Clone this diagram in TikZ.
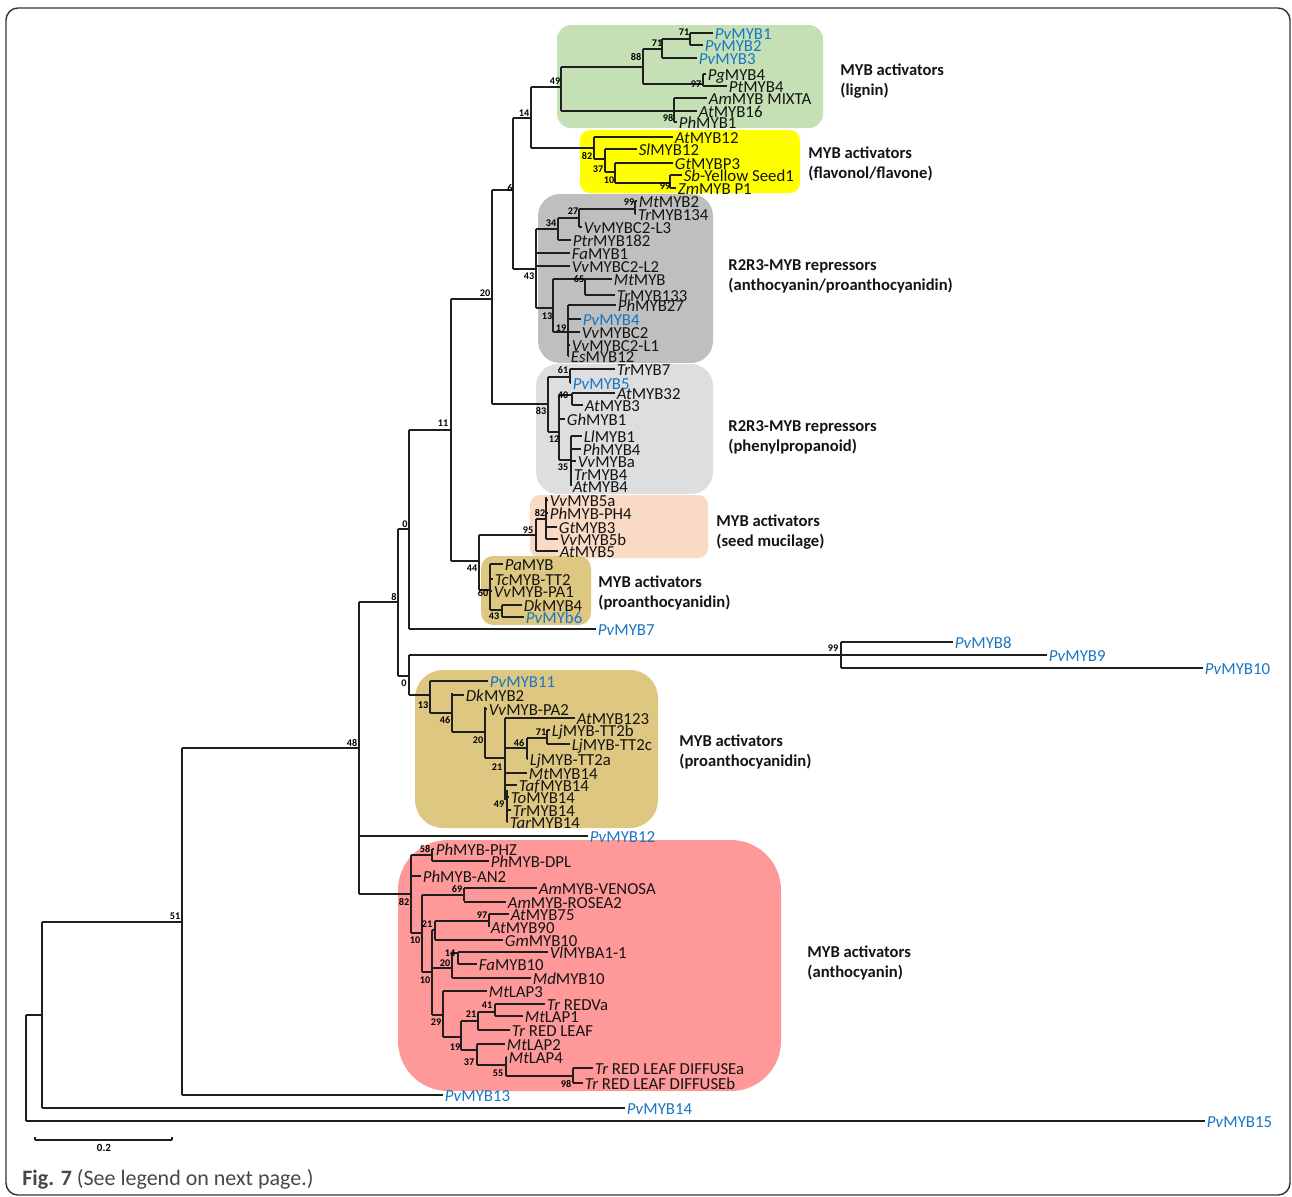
\documentclass[tikz,border=0pt]{standalone}
\usepackage{fontspec}
\setmainfont{Carlito}
\definecolor{pvblue}{RGB}{24,118,196}
\definecolor{cgreen}{RGB}{197,224,180}
\definecolor{cyellow}{RGB}{255,255,0}
\definecolor{cdgray}{RGB}{191,191,191}
\definecolor{clgray}{RGB}{222,222,222}
\definecolor{cpeach}{RGB}{249,218,196}
\definecolor{ctan}{RGB}{222,199,128}
\definecolor{cred}{RGB}{255,153,153}
\newcounter{nn}
\newcommand{\vbr}[3]{\draw[br] (#1,#2) -- (#1,#3);}
\newcommand{\hbr}[3]{\draw[br] (#1,#3) -- (#2,#3);}
\newcommand{\leafb}[4]{\draw[br] (#1,#3) -- (#2,#3);\stepcounter{nn}\node[lab] (n\arabic{nn}) at (#2+1.5,#3+6) {#4};}
\newcommand{\leafp}[4]{\draw[br] (#1,#3) -- (#2,#3);\stepcounter{nn}\node[lab,text=pvblue] (n\arabic{nn}) at (#2+1.5,#3+6) {#4};}
\newcommand{\bsn}[3]{\stepcounter{nn}\node[bsv] (b\arabic{nn}) at (#1,#2) {#3};}
\newcommand{\grpl}[4]{\stepcounter{nn}\node[grp] (g\arabic{nn}) at (#1,#2+5) {#3};\stepcounter{nn}\node[grp] (g\arabic{nn}) at (#1,#2+25) {#4};}
\newcommand{\spx}[1]{\textit{#1}}
\begin{document}
\begin{tikzpicture}[x=0.5pt,y=-0.5pt,
  br/.style={draw=black!88,line width=0.55pt},
  lab/.style={anchor=base west,inner sep=0pt,font=\fontsize{8.4}{9}\selectfont,text=black!92},
  bsv/.style={inner sep=0pt,font=\bfseries\fontsize{5.1}{5.5}\selectfont,text=black},
  grp/.style={anchor=base west,inner sep=0pt,font=\bfseries\fontsize{8.3}{9}\selectfont,text=black!92},
  box/.style={draw=none}]
\useasboundingbox (0,0) rectangle (1292,1196);
\draw[black!80,line width=0.7pt,rounded corners=6] (6,8) rectangle (1290,1195);
% boxes
\fill[cgreen,rounded corners=7] (557,25) rectangle (823,128);
\fill[cyellow,rounded corners=5] (580,130) rectangle (800,193);
\fill[cdgray,rounded corners=11] (538,194) rectangle (713,363);
\fill[clgray,rounded corners=11] (536,364) rectangle (713,494);
\fill[cpeach,rounded corners=5] (530,495) rectangle (708,558);
\fill[ctan,rounded corners=6] (481,556) rectangle (591,625);
\fill[ctan,rounded corners=14] (415,670) rectangle (658,828);
\fill[cred,rounded corners=25] (398,840) rectangle (781,1091);
% group labels
\grpl{840}{70}{MYB activators}{(lignin)}
\grpl{808}{153}{MYB activators}{(flavonol/flavone)}
\grpl{728}{265}{R2R3-MYB repressors}{(anthocyanin/proanthocyanidin)}
\grpl{728}{426}{R2R3-MYB repressors}{(phenylpropanoid)}
\grpl{716}{521}{MYB activators}{(seed mucilage)}
\grpl{598}{582}{MYB activators}{(proanthocyanidin)}
\grpl{679}{741}{MYB activators}{(proanthocyanidin)}
\grpl{807}{952}{MYB activators}{(anthocyanin)}
% backbone
\vbr{26}{1015}{1121}
\leafp{26}{1205}{1121}{\spx{Pv}MYB15}
\hbr{26}{42}{1015}
\vbr{42}{922}{1108}
\leafp{42}{625}{1108}{\spx{Pv}MYB14}
\hbr{42}{182}{922}
\vbr{182}{748}{1095}
\leafp{182}{443}{1095}{\spx{Pv}MYB13}
\hbr{182}{359}{748}
\vbr{359}{602}{894}
\leafp{359}{588}{836}{\spx{Pv}MYB12}
\hbr{359}{411}{894}
\hbr{359}{398}{602}
\vbr{398}{529}{676}
\hbr{398}{409}{529}
\vbr{409}{430}{629}
\leafp{409}{596}{629}{\spx{Pv}MYB7}
\hbr{398}{409}{676}
\vbr{409}{655}{695}
\hbr{409}{841}{655}
\vbr{841}{642}{668}
\leafp{841}{953}{642}{\spx{Pv}MYB8}
\leafp{841}{1047}{655}{\spx{Pv}MYB9}
\leafp{841}{1203}{668}{\spx{Pv}MYB10}
\hbr{409}{430}{695}
\hbr{409}{451}{430}
\vbr{451}{299}{561}
\hbr{451}{492}{299}
\vbr{492}{190}{404}
\hbr{492}{513}{190}
\vbr{513}{118}{269}
\hbr{513}{531}{118}
\vbr{531}{87}{148}
% green
\hbr{531}{561}{87}
\vbr{561}{67}{111}
\hbr{561}{643}{67}
\vbr{643}{49}{84}
\hbr{643}{662}{49}
\vbr{662}{39}{58}
\hbr{662}{690}{39}
\vbr{690}{33}{45}
\leafp{690}{713}{33}{\spx{Pv}MYB1}
\leafp{690}{703}{45}{\spx{Pv}MYB2}
\leafp{662}{697}{58}{\spx{Pv}MYB3}
\hbr{643}{703}{84}
\vbr{703}{74}{86}
\leafb{703}{706}{74}{\spx{Pg}MYB4}
\leafb{703}{727}{86}{\spx{Pt}MYB4}
\vbr{674}{98}{122}
\leafb{674}{707}{98}{\spx{Am}MYB MIXTA}
\leafb{561}{697}{111}{\spx{At}MYB16}
\leafb{674}{677}{122}{\spx{Ph}MYB1}
% yellow
\hbr{531}{594}{148}
\vbr{594}{137}{159}
\leafb{594}{673}{137}{\spx{At}MYB12}
\hbr{594}{605}{159}
\vbr{605}{149}{172}
\leafb{605}{637}{149}{\spx{Sl}MYB12}
\hbr{605}{615}{172}
\vbr{615}{163}{183}
\leafb{615}{673}{163}{\spx{Gt}MYBP3}
\hbr{615}{670}{183}
\vbr{670}{175}{188}
\leafb{670}{682}{175}{\spx{Sb}-Yellow Seed1}
\leafb{670}{676}{188}{\spx{Zm}MYB P1}
% dark gray
\hbr{513}{536}{269}
\vbr{536}{229}{308}
\hbr{536}{558}{229}
\vbr{558}{218}{240}
\hbr{558}{579}{218}
\vbr{579}{209}{227}
\hbr{579}{635}{209}
\vbr{635}{201}{214}
\leafb{635}{637}{201}{\spx{Mt}MYB2}
\leafb{635}{636}{214}{\spx{Tr}MYB134}
\leafb{579}{582}{227}{\spx{Vv}MYBC2-L3}
\leafb{558}{571}{240}{\spx{Ptr}MYB182}
\leafb{536}{570}{253}{\spx{Fa}MYB1}
\leafb{536}{570}{266}{\spx{Vv}MYBC2-L2}
\hbr{536}{553}{308}
\vbr{553}{279}{332}
\leafb{553}{612}{279}{\spx{Mt}MYB}
\vbr{585}{279}{295}
\leafb{585}{615}{295}{\spx{Tr}MYB133}
\hbr{553}{568}{332}
\vbr{568}{305}{356}
\leafb{568}{616}{305}{\spx{Ph}MYB27}
\leafp{568}{581}{319}{\spx{Pv}MYB4}
\leafb{568}{580}{332}{\spx{Vv}MYBC2}
\leafb{568}{570}{345}{\spx{Vv}MYBC2-L1}
\leafb{568}{569}{356}{\spx{Es}MYB12}
% light gray
\hbr{492}{548}{404}
\vbr{548}{377}{432}
\hbr{548}{570}{377}
\vbr{570}{369}{383}
\leafb{570}{615}{369}{\spx{Tr}MYB7}
\leafp{570}{571}{383}{\spx{Pv}MYB5}
\hbr{548}{559}{432}
\vbr{559}{395}{460}
\hbr{559}{572}{395}
\vbr{572}{393}{405}
\leafb{572}{615}{393}{\spx{At}MYB32}
\leafb{572}{583}{405}{\spx{At}MYB3}
\leafb{559}{565}{419}{\spx{Gh}MYB1}
\hbr{559}{571}{460}
\vbr{571}{436}{486}
\leafb{571}{582}{436}{\spx{Ll}MYB1}
\leafb{571}{581}{449}{\spx{Ph}MYB4}
\leafb{571}{576}{461}{\spx{Vv}MYBa}
\leafb{571}{572}{474}{\spx{Tr}MYB4}
\leafb{571}{571}{486}{\spx{At}MYB4}
% peach
\hbr{451}{479}{561}
\vbr{479}{535}{590}
\hbr{479}{536}{535}
\vbr{536}{519}{551}
\hbr{536}{546}{519}
\vbr{546}{497}{539}
\leafb{546}{548}{500}{\spx{Vv}MYB5a}
\leafb{546}{548}{513}{\spx{Ph}MYB-PH4}
\leafb{546}{557}{527}{\spx{Gt}MYB3}
\leafb{546}{558}{539}{\spx{Vv}MYB5b}
\leafb{536}{558}{551}{\spx{At}MYB5}
% tan small
\hbr{479}{490}{590}
\vbr{490}{564}{610}
\leafb{490}{503}{564}{\spx{Pa}MYB}
\leafb{490}{493}{579}{\spx{Tc}MYB-TT2}
\leafb{490}{492}{591}{\spx{Vv}MYB-PA1}
\hbr{490}{502}{610}
\vbr{502}{605}{617}
\leafb{502}{522}{605}{\spx{Dk}MYB4}
\leafp{502}{524}{617}{\spx{Pv}MYb6}
% tan big
\vbr{430}{681}{713}
\leafp{430}{488}{681}{\spx{Pv}MYB11}
\hbr{430}{452}{713}
\vbr{452}{693}{732}
\leafb{452}{464}{695}{\spx{Dk}MYB2}
\hbr{452}{485}{732}
\vbr{485}{707}{758}
\leafb{485}{487}{709}{\spx{Vv}MYB-PA2}
\hbr{485}{505}{758}
\vbr{505}{718}{800}
\leafb{505}{575}{718}{\spx{At}MYB123}
\hbr{505}{527}{748}
\vbr{527}{738}{759}
\hbr{527}{547}{738}
\vbr{547}{730}{744}
\leafb{547}{550}{730}{\spx{Lj}MYB-TT2b}
\leafb{547}{570}{744}{\spx{Lj}MYB-TT2c}
\leafb{527}{528}{759}{\spx{Lj}MYB-TT2a}
\leafb{505}{527}{773}{\spx{Mt}MYB14}
\leafb{505}{517}{785}{\spx{Taf}MYB14}
\vbr{507}{790}{822}
\leafb{507}{509}{797}{\spx{To}MYB14}
\leafb{507}{511}{810}{\spx{Tr}MYB14}
\leafb{507}{508}{822}{\spx{Tar}MYB14}
% red
\vbr{411}{855}{933}
\hbr{411}{432}{855}
\vbr{432}{849}{861}
\leafb{432}{434}{849}{\spx{Ph}MYB-PHZ}
\leafb{432}{489}{861}{\spx{Ph}MYB-DPL}
\leafb{411}{421}{876}{\spx{Ph}MYB-AN2}
\hbr{411}{422}{933}
\vbr{422}{895}{972}
\hbr{422}{464}{895}
\vbr{464}{888}{901}
\leafb{464}{537}{888}{\spx{Am}MYB-VENOSA}
\leafb{464}{506}{902}{\spx{Am}MYB-ROSEA2}
\hbr{422}{432}{972}
\vbr{432}{930}{1015}
\hbr{432}{435}{930}
\vbr{435}{921}{940}
\hbr{435}{489}{921}
\vbr{489}{914}{927}
\leafb{489}{509}{914}{\spx{At}MYB75}
\leafb{489}{489}{927}{\spx{At}MYB90}
\leafb{435}{503}{940}{\spx{Gm}MYB10}
\hbr{432}{452}{968}
\vbr{452}{953}{978}
\hbr{452}{458}{953}
\vbr{458}{952}{964}
\leafb{458}{548}{952}{\spx{Vl}MYBA1-1}
\leafb{458}{477}{964}{\spx{Fa}MYB10}
\leafb{452}{531}{978}{\spx{Md}MYB10}
\hbr{432}{443}{1015}
\vbr{443}{991}{1037}
\leafb{443}{487}{991}{\spx{Mt}LAP3}
\hbr{443}{461}{1037}
\vbr{461}{1021}{1050}
\hbr{461}{478}{1021}
\vbr{478}{1012}{1030}
\hbr{478}{495}{1012}
\vbr{495}{1004}{1016}
\leafb{495}{545}{1004}{\spx{Tr} REDVa}
\leafb{495}{523}{1016}{\spx{Mt}LAP1}
\leafb{478}{510}{1030}{\spx{Tr} RED LEAF}
\hbr{461}{477}{1050}
\vbr{477}{1044}{1065}
\leafb{477}{505}{1044}{\spx{Mt}LAP2}
\hbr{477}{506}{1065}
\vbr{506}{1057}{1076}
\leafb{506}{507}{1057}{\spx{Mt}LAP4}
\hbr{506}{573}{1076}
\vbr{573}{1068}{1083}
\leafb{573}{593}{1068}{\spx{Tr} RED LEAF DIFFUSEa}
\leafb{573}{583}{1083}{\spx{Tr} RED LEAF DIFFUSEb}
% bootstrap values
\bsn{684}{32}{71}
\bsn{657}{43}{71}
\bsn{636}{57}{88}
\bsn{555}{81}{49}
\bsn{696}{84}{97}
\bsn{668}{118}{98}
\bsn{524}{113}{14}
\bsn{587}{156}{82}
\bsn{598}{169}{37}
\bsn{609}{180}{10}
\bsn{665}{186}{99}
\bsn{510}{188}{6}
\bsn{629}{202}{99}
\bsn{573}{211}{27}
\bsn{551}{223}{34}
\bsn{529}{276}{43}
\bsn{579}{279}{65}
\bsn{547}{316}{13}
\bsn{561}{328}{19}
\bsn{563}{370}{61}
\bsn{563}{395}{40}
\bsn{541}{411}{83}
\bsn{554}{439}{12}
\bsn{563}{467}{35}
\bsn{540}{513}{82}
\bsn{528}{530}{95}
\bsn{472}{568}{44}
\bsn{483}{593}{60}
\bsn{494}{616}{43}
\bsn{443}{423}{11}
\bsn{485}{293}{20}
\bsn{405}{524}{0}
\bsn{394}{597}{8}
\bsn{404}{683}{0}
\bsn{423}{705}{13}
\bsn{445}{720}{46}
\bsn{478}{740}{20}
\bsn{519}{743}{46}
\bsn{541}{732}{71}
\bsn{497}{767}{21}
\bsn{499}{804}{49}
\bsn{352}{743}{48}
\bsn{175}{916}{51}
\bsn{404}{902}{82}
\bsn{415}{940}{10}
\bsn{427}{924}{21}
\bsn{425}{980}{10}
\bsn{445}{963}{20}
\bsn{436}{1022}{29}
\bsn{425}{849}{58}
\bsn{457}{889}{69}
\bsn{482}{915}{97}
\bsn{450}{953}{14}
\bsn{455}{1047}{19}
\bsn{471}{1014}{21}
\bsn{487}{1005}{41}
\bsn{469}{1062}{37}
\bsn{498}{1073}{55}
\bsn{566}{1084}{98}
\bsn{833}{648}{99}
% scale bar
\coordinate (sa) at (35,1140);
\coordinate (sb) at (172,1140);
\draw[br] (sa) -- (sb);
\draw[br] (35,1137) -- (sa);
\draw[br] (172,1137) -- (sb);
\node[inner sep=0pt,font=\bfseries\fontsize{5.5}{6}\selectfont] (scl) at (104,1148) {0.2};
% caption
\node[anchor=base west,inner sep=0pt,font=\fontsize{11}{12}\selectfont,text=black!72] (cap) at (22,1185) {\textbf{Fig. 7} (See legend on next page.)};
\end{tikzpicture}
\end{document}
